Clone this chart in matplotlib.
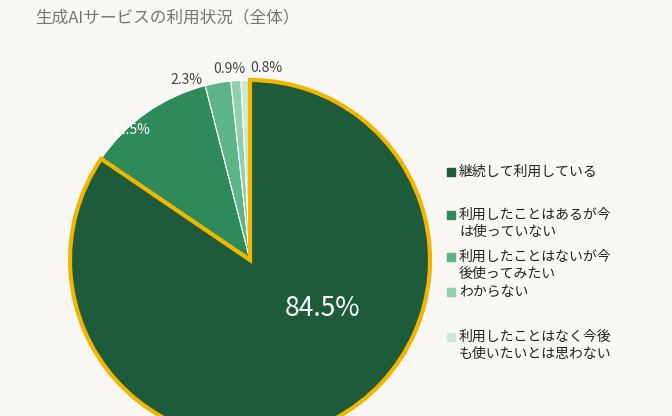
import matplotlib
matplotlib.use("Agg")
import matplotlib.pyplot as plt

plt.rcParams['font.family'] = ['Noto Sans CJK JP', 'DejaVu Sans']

categories = ["継続して利用している", "利用したことはあるが今\nは使っていない", "利用したことはないが今\n後使ってみたい",
              "わからない", "利用したことはなく今後\nも使いたいとは思わない"]
values = [84.5, 11.5, 2.3, 0.9, 0.8]
labels = ["84.5%", "11.5%", "2.3%", "0.9%", "0.8%"]
colors = ["#1e5b3a", "#2f8a5a", "#5cb487", "#8fd0ae", "#cbe9d7"]

fig = plt.figure(figsize=(6.72, 4.16), dpi=100, facecolor="#f8f7f3")
ax = fig.add_axes([0, 0, 1, 1])
ax.set_facecolor("#f8f7f3")
cx, cy, r = 250, 156, 180
wedges, _ = ax.pie(values, colors=colors, startangle=90, counterclock=False,
                   center=(cx, cy), radius=r, wedgeprops=dict(edgecolor="white", linewidth=0.8))
wedges[0].set_edgecolor("#f2b600")
wedges[0].set_linewidth(3)
wedges[0].set_zorder(5)
ax.set_xlim(0, 672); ax.set_ylim(0, 416); ax.set_aspect('auto'); ax.axis('off')

ax.text(322, 108, labels[0], color="white", fontsize=19, ha="center", va="center", zorder=6)
ax.text(131, 286, labels[1], color="white", fontsize=10, ha="center", va="center", zorder=6)
ax.text(186, 336, labels[2], color="#444444", fontsize=10, ha="center", va="center")
ax.text(229, 347, labels[3], color="#444444", fontsize=10, ha="center", va="center")
ax.text(266, 348, labels[4], color="#444444", fontsize=10, ha="center", va="center")

ys = [244, 201, 159, 124, 79]
for c, t, y in zip(colors, categories, ys):
    ax.scatter([451], [y], marker="s", s=30, color=c)
    ax.text(459, y, t, fontsize=10, va="top" if "\n" in t else "center", color="#222222",
            linespacing=1.2) if False else ax.text(459, y + (7 if "\n" in t else 0), t, fontsize=10,
            va="top" if "\n" in t else "center", color="#222222", linespacing=1.25)

fig.text(35 / 672, 1 - 18 / 416, "生成AIサービスの利用状況（全体）", fontsize=12, color="#777777", va="center")
fig.savefig("out.png", dpi=100, facecolor=fig.get_facecolor())
